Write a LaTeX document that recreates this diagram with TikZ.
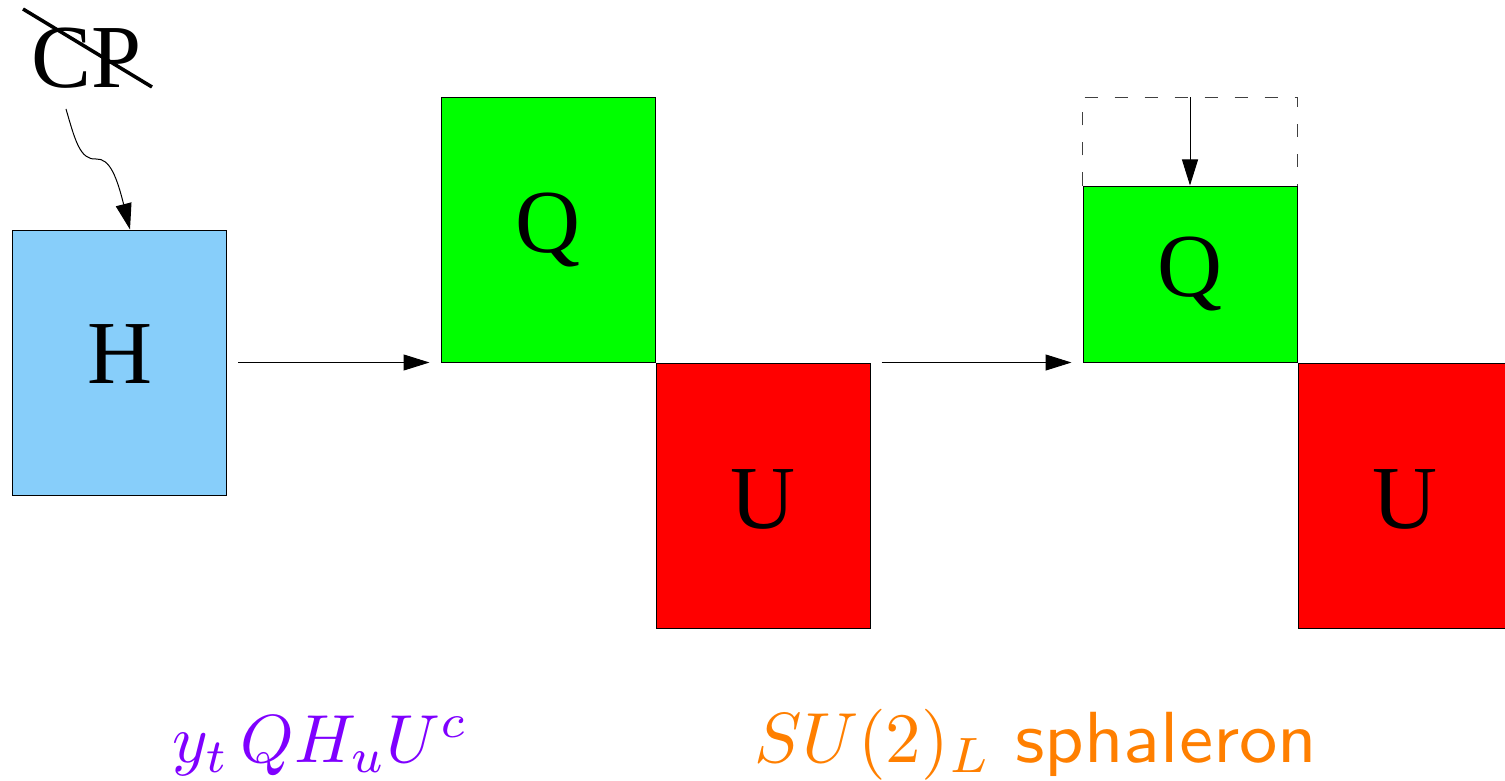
\documentclass[tikz,border=0pt]{standalone}
\usepackage{fix-cm}
\usepackage{fontspec}
\newfontfamily\boxfont{Liberation Serif}
\usetikzlibrary{arrows.meta}
\definecolor{hblue}{RGB}{135,206,250}
\definecolor{qgreen}{RGB}{0,255,0}
\definecolor{ured}{RGB}{255,0,0}
\definecolor{lblpurple}{RGB}{127,0,255}
\definecolor{lblorange}{RGB}{255,127,0}
\begin{document}
\begin{tikzpicture}[x=1pt,y=-1pt,
  blk/.style={draw=black, line width=1pt, minimum width=214pt, inner sep=0pt,
    font=\boxfont\fontsize{90}{100}\selectfont},
  arr/.style={line width=1pt, -{Triangle[length=26pt,width=16pt]}},
  dashbox/.style={draw=black!75, line width=1.2pt, dash pattern=on 13pt off 17pt},
  lbl/.style={anchor=base, inner sep=0pt}]
\useasboundingbox (0,0) rectangle (1505,781);
\clip (0,0) rectangle (1505,781);
% boxes
\node[blk, fill=hblue, minimum height=265pt, text depth=17pt] (H) at (119.5,362.5) {H};
\node[blk, fill=qgreen, minimum height=264pt] (Q1) at (548,230) {Q};
\node[blk, fill=ured, minimum height=265pt, anchor=north west, text height=66pt, text depth=0pt] (U1) at (Q1.south east) {U};
\node[blk, fill=qgreen, minimum height=176pt] (Q2) at (1190,274) {Q};
\node[blk, fill=ured, minimum height=265pt, anchor=north west, text height=66pt, text depth=0pt] (U2) at (Q2.south east) {U};
% CP with strike
\node[font=\boxfont\fontsize{90}{100}\selectfont, inner sep=0pt] (CP) at (87,58) {CP};
\draw[line width=3.5pt] ([shift={(-64,-49)}]CP.center) -- ([shift={(65,29)}]CP.center);
% wavy arrow
\coordinate (cps) at (66,109);
\draw[arr] (cps) .. controls (75,140) and (80,160) .. (96,159)
  .. controls (110,158) and (117,178) .. ([xshift=118pt]H.north west);
% horizontal arrows
\draw[arr, shorten <=11pt, shorten >=11pt] (H.east |- Q1.south) -- (Q1.south west);
\draw[arr, shorten <=11pt, shorten >=11pt] (U1.north east) -- (U1.north east -| Q2.west);
% dashed box and arrow
\draw[dashbox] (Q2.north west) -- ++(0,-88) -| (Q2.north east);
\coordinate (dtop) at ([yshift=88pt]Q2.north);
\draw[arr] (dtop) -- (Q2.north);
% labels
\node[lbl, text=lblpurple] (L1) at (320,762) {\scalebox{6.8}{$y_t\,QH_uU^c$}};
\node[lbl, text=lblorange] (L2) at (1036,762) {\scalebox{7.1}{$SU(2)_L$ \scalebox{1.08}[1.02]{\textsf{sphaleron}}}};
\end{tikzpicture}
\end{document}
